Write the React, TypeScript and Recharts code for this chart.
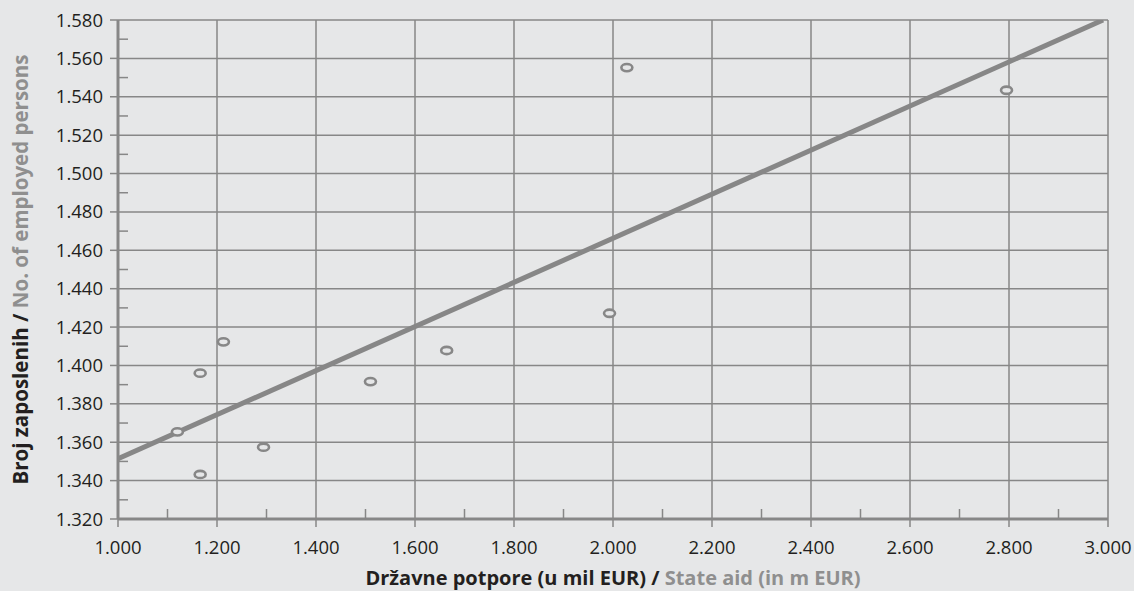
import React from "react";
import {
  ScatterChart,
  Scatter,
  XAxis,
  YAxis,
  CartesianGrid,
  Label,
} from "recharts";

// State aid (m EUR) and number of employed persons (thousands)
const aidValues = [1120, 1166, 1213, 1166, 1294, 1510, 1664, 1993, 2028, 2795];
const employedValues = [1365.4, 1396, 1412.3, 1343.2, 1357.4, 1391.6, 1407.8, 1427.2, 1555.2, 1543.4];

// linear trend line end points
const trendX = [1000, 2990];
const trendY = [1351.4, 1580];

const xMajorTicks = [1000, 1200, 1400, 1600, 1800, 2000, 2200, 2400, 2600, 2800, 3000];
const xMinorTicks = [1100, 1300, 1500, 1700, 1900, 2100, 2300, 2500, 2700, 2900];
const yMajorTicks = [1320, 1340, 1360, 1380, 1400, 1420, 1440, 1460, 1480, 1500, 1520, 1540, 1560, 1580];
const yMinorTicks = [1330, 1350, 1370, 1390, 1410, 1430, 1450, 1470, 1490, 1510, 1530, 1550, 1570];

const xTitleMain = "Državne potpore (u mil EUR) / ";
const xTitleEn = "State aid (in m EUR)";
const yTitleMain = "Broj zaposlenih / ";
const yTitleEn = "No. of employed persons";

const points = aidValues.map((x, i) => ({ x, y: employedValues[i] }));
const trend = trendX.map((x, i) => ({ x, y: trendY[i] }));

const BG = "#e6e7e8";
const GRID = "#878787";
const DARK = "#231f20";
const LIGHT = "#8f8f8f";
const FONT = "'Open Sans', sans-serif";

const fmt = (v: number) =>
  Math.floor(v / 1000) + "." + String(Math.round(v) % 1000).padStart(3, "0");

const xAllTicks = [...xMajorTicks, ...xMinorTicks].sort((a, b) => a - b);
const yAllTicks = [...yMajorTicks, ...yMinorTicks].sort((a, b) => a - b);

const XTick = (props: any) => {
  const { x, y, payload } = props;
  const v = payload.value;
  if (xMajorTicks.includes(v)) {
    return (
      <g>
        <line x1={x} x2={x} y1={y} y2={y + 8} stroke={GRID} strokeWidth={1.5} />
        <text x={x} y={y + 35} textAnchor="middle" fontSize={18.5} fill={DARK} fontFamily={FONT}>
          {fmt(v)}
        </text>
      </g>
    );
  }
  return <line x1={x} x2={x} y1={y} y2={y - 10} stroke={GRID} strokeWidth={1.5} />;
};

const YTick = (props: any) => {
  const { x, y, payload } = props;
  const v = payload.value;
  if (yMajorTicks.includes(v)) {
    return (
      <g>
        <line x1={x - 8} x2={x} y1={y} y2={y} stroke={GRID} strokeWidth={1.5} />
        <text x={x - 15} y={y + 6.5} textAnchor="end" fontSize={18.5} fill={DARK} fontFamily={FONT}>
          {fmt(v)}
        </text>
      </g>
    );
  }
  return <line x1={x} x2={x + 10} y1={y} y2={y} stroke={GRID} strokeWidth={1.5} />;
};

const TopTick = (props: any) => {
  const { x, y } = props;
  return <line x1={x} x2={x} y1={y} y2={y + 9} stroke={GRID} strokeWidth={1.5} />;
};

const RightTick = (props: any) => {
  const { x, y } = props;
  return <line x1={x} x2={x - 10} y1={y} y2={y} stroke={GRID} strokeWidth={1.5} />;
};

const Marker = (props: any) => {
  const { cx, cy } = props;
  if (cx == null || cy == null) return <g />;
  return <ellipse cx={cx} cy={cy} rx={5.5} ry={3.6} fill={BG} stroke={GRID} strokeWidth={2.6} />;
};

const NoMarker = () => <g />;

const XTitle = (props: any) => {
  const vb = props.viewBox || {};
  const cx = vb.x + vb.width / 2;
  return (
    <text x={cx} y={vb.y + 66} textAnchor="middle" fontSize={20} fontWeight={700} fontFamily={FONT}>
      <tspan fill={DARK}>{xTitleMain}</tspan>
      <tspan fill={LIGHT}>{xTitleEn}</tspan>
    </text>
  );
};

const YTitle = (props: any) => {
  const vb = props.viewBox || {};
  const cy = vb.y + vb.height / 2;
  const cx = 28;
  return (
    <text
      x={cx}
      y={cy}
      textAnchor="middle"
      fontSize={20.5}
      fontWeight={700}
      fontFamily={FONT}
      transform={`rotate(-90, ${cx}, ${cy})`}
    >
      <tspan fill={DARK}>{yTitleMain}</tspan>
      <tspan fill={LIGHT}>{yTitleEn}</tspan>
    </text>
  );
};

export default function App() {
  return (
    <div style={{ position: "absolute", left: 0, top: 0, width: 1134, height: 591, background: BG }}>
      <ScatterChart width={1134} height={591} margin={{ top: 20, right: 26, bottom: 0, left: 0 }}>
        <CartesianGrid
          stroke={GRID}
          strokeWidth={1.5}
          verticalValues={xMajorTicks}
          horizontalValues={yMajorTicks}
          vertical={true}
          horizontal={true}
        />
        <XAxis
          xAxisId="top"
          orientation="top"
          type="number"
          dataKey="x"
          domain={[1000, 3000]}
          allowDataOverflow
          ticks={xMinorTicks}
          height={0}
          tickSize={0}
          tickMargin={0}
          tick={<TopTick />}
          axisLine={{ stroke: GRID, strokeWidth: 1.5 }}
          tickLine={false}
          interval={0}
        />
        <YAxis
          yAxisId="right"
          orientation="right"
          type="number"
          dataKey="y"
          domain={[1320, 1580]}
          allowDataOverflow
          ticks={yMinorTicks}
          width={0}
          tickSize={0}
          tickMargin={0}
          tick={<RightTick />}
          axisLine={{ stroke: GRID, strokeWidth: 1.5 }}
          tickLine={false}
          interval={0}
        />
        <XAxis
          type="number"
          dataKey="x"
          domain={[1000, 3000]}
          allowDataOverflow
          ticks={xAllTicks}
          height={72}
          tickSize={0}
          tickMargin={0}
          tick={<XTick />}
          axisLine={{ stroke: GRID, strokeWidth: 3 }}
          tickLine={false}
          interval={0}
        >
          <Label content={<XTitle />} />
        </XAxis>
        <YAxis
          type="number"
          dataKey="y"
          domain={[1320, 1580]}
          allowDataOverflow
          ticks={yAllTicks}
          width={118}
          tickSize={0}
          tickMargin={0}
          tick={<YTick />}
          axisLine={{ stroke: GRID, strokeWidth: 3 }}
          tickLine={false}
          interval={0}
        >
          <Label content={<YTitle />} />
        </YAxis>
        <Scatter
          data={trend}
          line={{ stroke: GRID, strokeWidth: 5 }}
          lineType="joint"
          shape={<NoMarker />}
          isAnimationActive={false}
        />
        <Scatter data={points} shape={<Marker />} isAnimationActive={false} />
      </ScatterChart>
    </div>
  );
}
